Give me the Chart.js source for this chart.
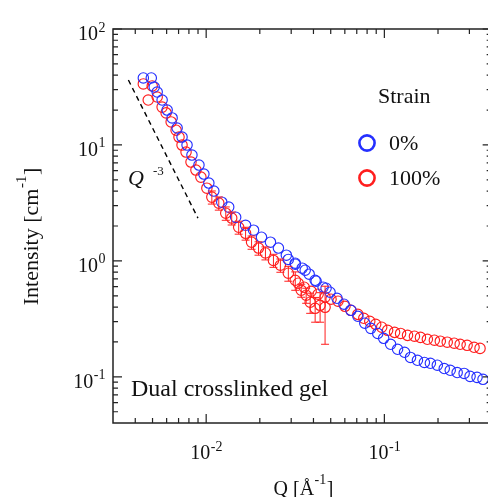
<!DOCTYPE html>
<html>
<head>
<meta charset="utf-8">
<script src="https://cdn.jsdelivr.net/npm/chart.js@4.4.1/dist/chart.umd.min.js"></script>
<style>
html,body{margin:0;padding:0;overflow:hidden;background:#fff;}
#wrap{position:relative;width:498px;height:497px;}
</style>
</head>
<body>
<div id="wrap"><canvas id="c" width="498" height="497"></canvas></div>
<script>
// ---- data (Q in 1/Å, Intensity in 1/cm) ----
const seriesNames = ["0%", "100%"];
// 0% strain, low-Q configuration
const qBlueLow = [0.00444,0.00492,0.00511,0.00531,0.00566,0.00604,0.00644,0.00687,0.00732,0.00781,0.00832,0.00911,0.00971,0.01035,0.01104,0.01223,0.01338,0.01464,0.01664,0.01845,0.02044,0.02295,0.02543,0.02818,0.03162,0.03595,0.04088,0.04708];
const iBlueLow = [37.8,37.8,31.6,28.6,24.4,20.0,17.1,14.0,11.7,9.98,8.18,6.71,5.61,4.69,4.00,3.21,2.91,2.38,2.03,1.84,1.60,1.45,1.29,1.12,0.955,0.831,0.681,0.581];
// 0% strain, high-Q configuration
const qBlueHigh = [0.02891,0.03162,0.03459,0.03785,0.04141,0.0453,0.04956,0.05422,0.05933,0.0649,0.07099,0.07765,0.0839,0.0918,0.0991,0.1084,0.1186,0.1298,0.1402,0.1533,0.1677,0.1812,0.1982,0.2168,0.2342,0.2562,0.2803,0.3027,0.3312,0.3577];
const iBlueHigh = [1.03,0.936,0.865,0.768,0.668,0.593,0.537,0.476,0.423,0.375,0.333,0.290,0.262,0.237,0.215,0.191,0.173,0.163,0.147,0.139,0.133,0.131,0.126,0.118,0.114,0.109,0.107,0.101,0.0990,0.0952];
// 100% strain, low-Q configuration (with error bars)
const qRedLow = [0.00444,0.00473,0.00498,0.00531,0.00566,0.00596,0.00636,0.00678,0.00704,0.00732,0.00771,0.00822,0.00876,0.00934,0.01009,0.01076,0.01177,0.01288,0.01391,0.01522,0.01664,0.01798,0.01967,0.02151,0.02385,0.02609,0.02891,0.03162,0.03415,0.03641,0.03834,0.04088,0.04359,0.04648];
const iRedLow = [33.6,24.4,32.3,25.9,21.2,18.9,15.8,13.4,11.7,9.98,8.68,7.12,6.07,5.28,4.24,3.55,3.15,2.58,2.34,1.95,1.73,1.45,1.29,1.17,1.01,0.918,0.783,0.681,0.558,0.506,0.440,0.390,0.414,0.398];
const eRedLow = [0,0,0,0,0,0,0,0,0,0,0,0,0,0,0,0.46,0.41,0.34,0.30,0.25,0.22,0.19,0.17,0.15,0.13,0.12,0.115,0.123,0.072,0.075,0.087,0.094,0.118,0.207];
// 100% strain, high-Q configuration
const qRedHigh = [0.03286,0.03549,0.03883,0.04249,0.04648,0.0502,0.05493,0.06009,0.0649,0.07099,0.07665,0.0828,0.0894,0.0966,0.1043,0.1141,0.1233,0.1349,0.1475,0.1594,0.1743,0.1908,0.206,0.2253,0.2465,0.2663,0.2913,0.3187,0.3442];
const iRedHigh = [0.642,0.593,0.547,0.516,0.486,0.467,0.449,0.406,0.375,0.346,0.320,0.301,0.284,0.268,0.252,0.242,0.237,0.228,0.224,0.219,0.211,0.207,0.203,0.199,0.195,0.191,0.187,0.180,0.176];
// Q^-3 guide line
const qGuide = [0.00366, 0.00899];
const iGuide = [36.3, 2.34];
// axes
const xMin = 0.003, xMax = 0.4, yMin = 0.04, yMax = 100;
const xTickValues = [0.01, 0.1];
const xTickExps = ["-2", "-1"];
const yTickValues = [0.1, 1, 10, 100];
const yTickExps = ["-1", "0", "1", "2"];
const xMinorTicks = [0.004,0.005,0.006,0.007,0.008,0.009,0.02,0.03,0.04,0.05,0.06,0.07,0.08,0.09,0.2,0.3];
const yMinorTicks = [0.05,0.06,0.07,0.08,0.09,0.2,0.3,0.4,0.5,0.6,0.7,0.8,0.9,2,3,4,5,6,7,8,9,20,30,40,50,60,70,80,90];

const BLUE = "#2530ff", RED = "#ff1e1e";
const SERIF = "'Liberation Serif','DejaVu Serif',serif";

function pts(q, i){ return q.map((v,k)=>({x:v, y:i[k]})); }

function markerSet(label, q, i, color){
  return {label, data: pts(q,i), showLine:false, pointStyle:'circle', pointRadius:5.2,
    pointHoverRadius:5.2, pointBorderWidth:1.15, borderColor:color, backgroundColor:'rgba(0,0,0,0)',
    pointBackgroundColor:'rgba(0,0,0,0)', pointBorderColor:color};
}

function drawPow(ctx, base, exp, x, y, baseSize, supSize, align, supRise){
  ctx.font = baseSize + "px " + SERIF;
  const bw = ctx.measureText(base).width;
  ctx.font = supSize + "px " + SERIF;
  const sw = ctx.measureText(exp).width;
  let x0 = x;
  if (align === 'right') x0 = x - bw - sw;
  else if (align === 'center') x0 = x - (bw + sw)/2;
  ctx.textAlign = 'left'; ctx.textBaseline = 'alphabetic';
  ctx.font = baseSize + "px " + SERIF;
  ctx.fillText(base, x0, y);
  ctx.font = supSize + "px " + SERIF;
  ctx.fillText(exp, x0 + bw + 0.5, y - supRise);
}

const framePlugin = {
  id:'frame',
  afterDatasetsDraw(chart){
    const ctx = chart.ctx, xs = chart.scales.x, ys = chart.scales.y;
    ctx.save();
    ctx.beginPath();
    ctx.rect(chart.chartArea.left, chart.chartArea.top, chart.chartArea.right-chart.chartArea.left, chart.chartArea.bottom-chart.chartArea.top);
    ctx.clip();
    ctx.strokeStyle = RED; ctx.lineWidth = 1;
    qRedLow.forEach((q,k)=>{
      const e = eRedLow[k]; if (!e) return;
      const px = xs.getPixelForValue(q);
      const yTop = ys.getPixelForValue(iRedLow[k] + e);
      const yBot = ys.getPixelForValue(Math.max(iRedLow[k] - e, yMin));
      ctx.beginPath();
      ctx.moveTo(px, yTop); ctx.lineTo(px, yBot);
      ctx.moveTo(px-4, yTop); ctx.lineTo(px+4, yTop);
      ctx.moveTo(px-4, yBot); ctx.lineTo(px+4, yBot);
      ctx.stroke();
    });
    ctx.restore();
  },
  afterDraw(chart){
    const ctx = chart.ctx, xs = chart.scales.x, ys = chart.scales.y;
    const {left,right,top,bottom} = chart.chartArea;
    ctx.save();
    ctx.strokeStyle = '#222'; ctx.lineWidth = 1.5;
    ctx.strokeRect(left, top, right-left, bottom-top);
    ctx.lineWidth = 1.2;
    ctx.beginPath();
    xTickValues.forEach(v=>{ const p = xs.getPixelForValue(v);
      ctx.moveTo(p,bottom); ctx.lineTo(p,bottom-9); ctx.moveTo(p,top); ctx.lineTo(p,top+9); });
    xMinorTicks.forEach(v=>{ const p = xs.getPixelForValue(v);
      ctx.moveTo(p,bottom); ctx.lineTo(p,bottom-5); ctx.moveTo(p,top); ctx.lineTo(p,top+5); });
    yTickValues.forEach(v=>{ const p = ys.getPixelForValue(v);
      ctx.moveTo(left,p); ctx.lineTo(left+9,p); ctx.moveTo(right,p); ctx.lineTo(right-9,p); });
    yMinorTicks.forEach(v=>{ const p = ys.getPixelForValue(v);
      ctx.moveTo(left,p); ctx.lineTo(left+5,p); ctx.moveTo(right,p); ctx.lineTo(right-5,p); });
    ctx.stroke();

    ctx.fillStyle = '#111';
    yTickValues.forEach((v,k)=>{ const p = ys.getPixelForValue(v);
      drawPow(ctx, "10", yTickExps[k], left-8, p+11, 20, 14, 'right', 8.5); });
    xTickValues.forEach((v,k)=>{ const p = xs.getPixelForValue(v);
      drawPow(ctx, "10", xTickExps[k], p, bottom+36, 20, 14, 'center', 8.5); });

    // x axis title
    ctx.font = "20px " + SERIF;
    const t1 = "Q [Å", t2 = "]";
    const w1 = ctx.measureText(t1).width, w2 = ctx.measureText(t2).width;
    ctx.font = "14px " + SERIF;
    const ws = ctx.measureText("-1").width;
    let x0 = 303 - (w1+ws+w2)/2;
    ctx.font = "20px " + SERIF; ctx.textAlign='left';
    ctx.fillText(t1, x0, 495);
    ctx.font = "14px " + SERIF; ctx.fillText("-1", x0+w1+0.5, 484);
    ctx.font = "20px " + SERIF; ctx.fillText(t2, x0+w1+ws+1, 495);

    // y axis title
    ctx.save();
    ctx.translate(38, 237);
    ctx.rotate(-Math.PI/2);
    ctx.font = "22px " + SERIF;
    const s1 = "Intensity [cm", s2 = "]";
    const v1 = ctx.measureText(s1).width, v2 = ctx.measureText(s2).width;
    ctx.font = "15px " + SERIF;
    const vs = ctx.measureText("-1").width;
    let y0 = -(v1+vs+v2)/2;
    ctx.font = "22px " + SERIF; ctx.fillText(s1, y0, 0);
    ctx.font = "15px " + SERIF; ctx.fillText("-1", y0+v1+0.5, -12);
    ctx.font = "22px " + SERIF; ctx.fillText(s2, y0+v1+vs+1, 0);
    ctx.restore();

    // Q^-3 annotation
    ctx.font = "italic 22px " + SERIF; ctx.textAlign='left';
    ctx.fillText("Q", 128, 185);
    ctx.font = "13px " + SERIF;
    ctx.fillText("-3", 153, 175);

    // sample label
    ctx.font = "24px " + SERIF;
    ctx.fillText("Dual crosslinked gel", 131, 396);

    // legend
    ctx.font = "22px " + SERIF;
    ctx.fillText("Strain", 378, 103);
    const legColors = [BLUE, RED];
    const legY = [143, 178];
    seriesNames.forEach((n,k)=>{
      ctx.beginPath(); ctx.lineWidth = 2.6; ctx.strokeStyle = legColors[k];
      ctx.arc(367, legY[k], 7.6, 0, Math.PI*2); ctx.stroke();
      ctx.fillStyle = '#111';
      ctx.fillText(n, 389, legY[k]+7);
    });
    ctx.restore();
  }
};

new Chart(document.getElementById('c'), {
  type:'scatter',
  data:{ datasets:[
    markerSet(seriesNames[0], qBlueLow, iBlueLow, BLUE),
    markerSet(seriesNames[0], qBlueHigh, iBlueHigh, BLUE),
    markerSet(seriesNames[1], qRedLow, iRedLow, RED),
    markerSet(seriesNames[1], qRedHigh, iRedHigh, RED),
    {label:'Q^-3', data: pts(qGuide, iGuide), showLine:true, pointRadius:0, borderColor:'#000',
      borderWidth:1.4, borderDash:[5,4], backgroundColor:'rgba(0,0,0,0)'}
  ]},
  options:{
    responsive:false, animation:false,
    layout:{ padding:{ left:113, right:4, top:29, bottom:74 } },
    plugins:{ legend:{display:false}, tooltip:{enabled:false} },
    scales:{
      x:{ type:'logarithmic', min:xMin, max:xMax, display:false },
      y:{ type:'logarithmic', min:yMin, max:yMax, display:false }
    }
  },
  plugins:[framePlugin]
});
</script>
</body>
</html>
